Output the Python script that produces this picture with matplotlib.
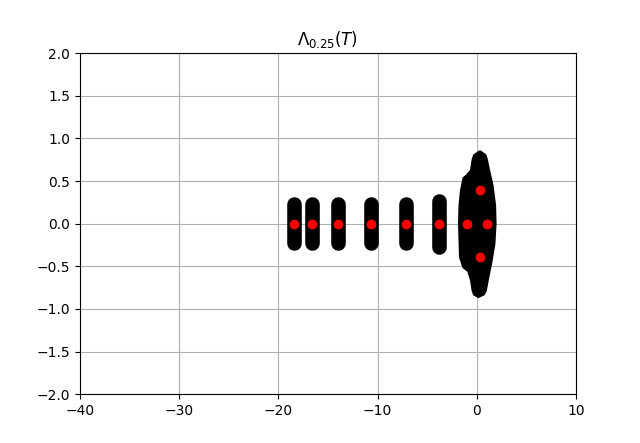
import matplotlib
matplotlib.use("Agg")
import matplotlib.pyplot as plt
import numpy as np

# ---------------------------------------------------------------------------
# DATA
# ---------------------------------------------------------------------------
# eigenvalues (red dots)
eig_re = [-18.40, -16.58, -13.96, -10.64, -7.14, -3.81, -0.96, 1.06, 0.35, 0.35]
eig_im = [0.0, 0.0, 0.0, 0.0, 0.0, 0.0, 0.0, 0.0, 0.39, -0.39]

# isolated pseudospectral components: centre and vertical half-extent
blob_x = [-18.40, -16.58, -13.96, -10.64, -7.14, -3.81]
blob_h = [0.23, 0.23, 0.23, 0.23, 0.23, 0.27]

# outline of the big component around the origin
big_x = [1.89, 1.84, 1.58, 1.23, 1.03, 0.88, 0.32, -0.28, -0.43, -0.58,
         -0.99, -1.34, -1.59, -1.74, -1.79, -1.69, -1.36, -0.86, -0.58,
         -0.43, -0.28, 0.15, 0.70, 0.90, 1.16, 1.43, 1.77]
big_y = [0.0, 0.217, 0.452, 0.628, 0.745, 0.804, 0.850, 0.804, 0.745, 0.628,
         0.569, 0.534, 0.393, 0.217, 0.0, -0.393, -0.51, -0.557, -0.663,
         -0.78, -0.83, -0.859, -0.83, -0.788, -0.628, -0.475, -0.24]

fig, ax = plt.subplots(figsize=(6.4, 4.43), dpi=100)

# ---- pseudospectrum (black) ----
for x, h in zip(blob_x, blob_h):
    ax.plot([x, x], [-h, h], color="k", linewidth=10.5,
            solid_capstyle="round", zorder=2)
ax.fill(big_x, big_y, color="k", linewidth=1.5, joinstyle="round", zorder=2)

# ---- eigenvalues (red) ----
ax.plot(eig_re, eig_im, "ro", zorder=3)

ax.set_xlim(-40, 10)
ax.set_ylim(-2, 2)
ax.set_yticks(np.arange(-2, 2.01, 0.5))
ax.grid(True)
ax.set_title(r"$\Lambda_{0.25}(T)$")

fig.savefig("out.png", dpi=100)
